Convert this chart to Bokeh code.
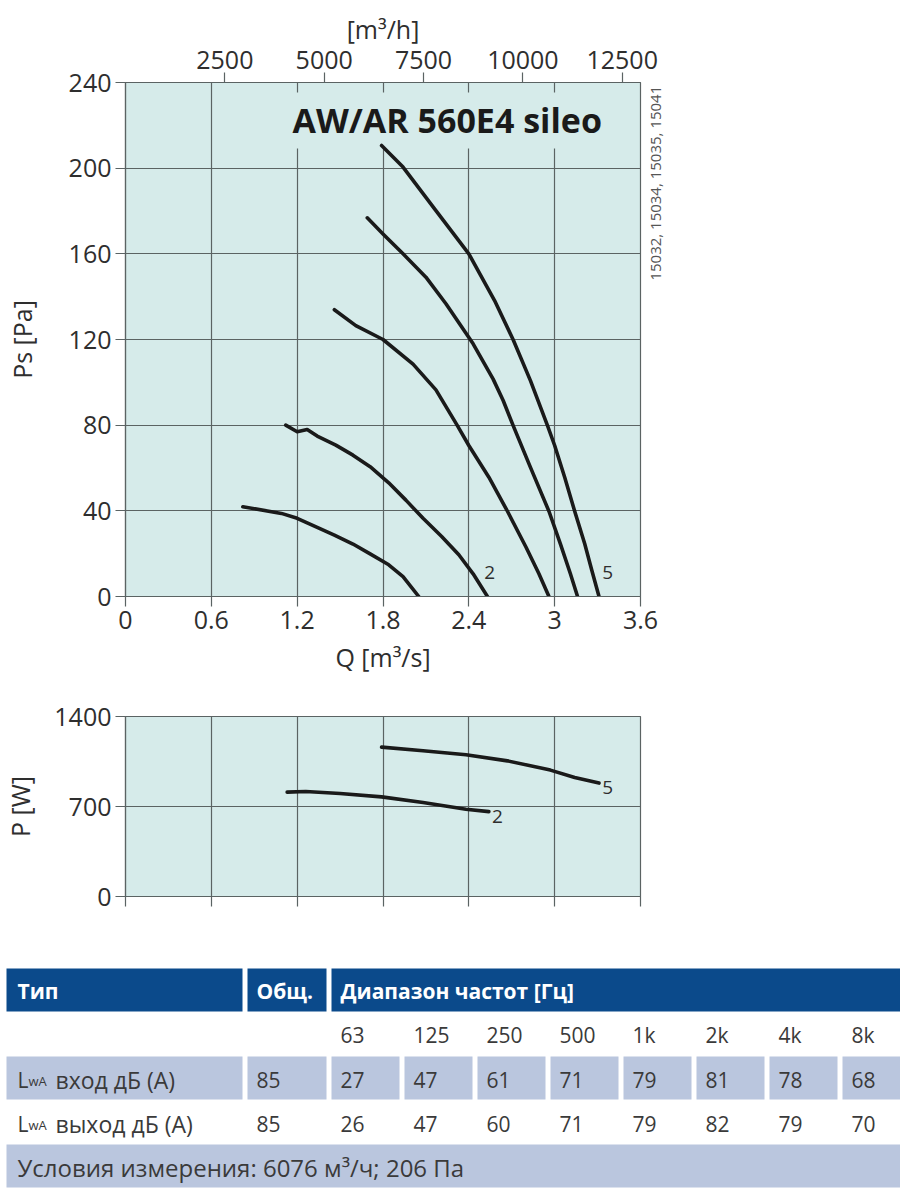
import math
import json
from bokeh.plotting import figure
from bokeh.models import Range1d, LinearAxis, FixedTicker, CustomJSTickFormatter, Label
from bokeh.layouts import column
from bokeh.core.properties import value
from bokeh.embed import file_html
from bokeh.resources import INLINE

FONT = "Open Sans"
BG = "#d6ebea"
AX = "#5b6363"
GRID = "#5b6363"
TXT = "#2e2e2e"
CURVE = "#1a1a1a"

# ---------------- data ----------------
q_ticks = [0, 0.6, 1.2, 1.8, 2.4, 3.0, 3.6]
ps_ticks = [0, 40, 80, 120, 160, 200, 240]
mh_ticks = [2500, 5000, 7500, 10000, 12500]
p_ticks = [0, 700, 1400]

# Ps curves (Q m3/s, Ps Pa)
q1 = [0.82, 1.09, 1.20, 1.34, 1.46, 1.59, 1.71, 1.84, 1.94, 2.05]
ps1 = [41.9, 38.8, 36.5, 32.3, 28.7, 24.5, 19.9, 14.8, 9.3, 0.0]

q2 = [1.12, 1.20, 1.27, 1.34, 1.47, 1.59, 1.71, 1.84, 1.96, 2.08, 2.21, 2.33, 2.43, 2.53]
ps2 = [80.0, 76.9, 78.0, 74.9, 70.7, 66.0, 60.6, 53.1, 45.0, 36.5, 28.0, 19.5, 10.6, 0.0]

q3 = [1.46, 1.61, 1.80, 2.01, 2.17, 2.32, 2.40, 2.54, 2.67, 2.80, 2.89, 2.96]
ps3 = [133.9, 126.5, 120.0, 108.5, 96.5, 79.8, 70.5, 55.7, 39.8, 23.0, 10.6, 0.0]

q4 = [1.69, 1.80, 1.94, 2.10, 2.24, 2.43, 2.57, 2.64, 2.71, 2.83, 2.96, 3.04, 3.11, 3.16]
ps4 = [176.8, 169.3, 160.0, 149.1, 136.7, 118.0, 101.5, 91.5, 79.8, 60.4, 39.8, 24.6, 10.6, 0.0]

q5 = [1.79, 1.94, 2.17, 2.40, 2.58, 2.71, 2.83, 2.95, 3.00, 3.07, 3.14, 3.21, 3.26, 3.31]
ps5 = [210.6, 200.5, 180.2, 160.0, 138.2, 119.9, 100.9, 79.8, 70.5, 55.7, 39.8, 24.6, 12.1, 0.0]

# Power curves (Q m3/s, P W)
pq2 = [1.13, 1.26, 1.50, 1.79, 2.08, 2.38, 2.54]
pw2 = [812, 817, 801, 775, 731, 679, 660]
pq5 = [1.79, 2.08, 2.38, 2.67, 2.97, 3.14, 3.31]
pw5 = [1162, 1133, 1102, 1055, 983, 926, 882]

# Table
head_labels = ["Тип", "Общ.", "Диапазон частот [Гц]"]
freq_labels = ["63", "125", "250", "500", "1k", "2k", "4k", "8k"]
inlet_db = [27, 47, 61, 71, 79, 81, 78, 68]
outlet_db = [26, 47, 60, 71, 79, 82, 79, 70]
inlet_total = 85
outlet_total = 85
row_in_label = "вход дБ (A)"
row_out_label = "выход дБ (A)"
cond_text = "Условия измерения: 6076 м³/ч; 206 Па"
model_name = "AW/AR 560E4 sileo"
codes_text = "15032, 15034, 15035, 15041"


def style_axis(ax, size="25px"):
    ax.axis_line_color = AX
    ax.axis_line_width = 1.2
    ax.major_tick_line_color = AX
    ax.major_tick_line_width = 1.2
    ax.major_tick_out = 10
    ax.major_tick_in = 0
    ax.minor_tick_out = 0
    ax.minor_tick_in = 0
    ax.major_label_text_font = FONT
    ax.major_label_text_font_size = size
    ax.major_label_text_color = TXT
    ax.major_label_standoff = 4
    ax.axis_label_text_font = FONT
    ax.axis_label_text_font_size = size
    ax.axis_label_text_font_style = "normal"
    ax.axis_label_text_color = TXT


def style_fig(p, yticks):
    p.background_fill_color = BG
    p.border_fill_color = "white"
    p.outline_line_color = AX
    p.outline_line_width = 1.2
    p.outline_line_alpha = 1.0
    p.xgrid.ticker = FixedTicker(ticks=q_ticks)
    p.ygrid.ticker = FixedTicker(ticks=yticks)
    p.grid.grid_line_color = GRID
    p.grid.grid_line_width = 1.2
    p.grid.grid_line_alpha = 1.0


# ---------------- main pressure chart ----------------
p1 = figure(frame_width=515, frame_height=514,
            x_range=Range1d(0, 3.6), y_range=Range1d(0, 240),
            output_backend="svg", toolbar_location=None,
            min_border_left=123, min_border_right=262,
            min_border_top=82, min_border_bottom=94)
style_fig(p1, ps_ticks)
p1.xaxis.ticker = FixedTicker(ticks=q_ticks)
p1.xaxis.formatter = CustomJSTickFormatter(code="return String(Math.round(tick*10)/10);")
p1.yaxis.ticker = FixedTicker(ticks=ps_ticks)
p1.xaxis.axis_label = "Q [m³/s]"
p1.yaxis.axis_label = "Ps [Pa]"
style_axis(p1.xaxis[0])
style_axis(p1.yaxis[0])
p1.xaxis.axis_label_standoff = 8
p1.yaxis.axis_label_standoff = 27

p1.extra_x_ranges = {"mh": Range1d(0, 3.6 * 3600)}
top = LinearAxis(x_range_name="mh", ticker=FixedTicker(ticks=mh_ticks), axis_label="[m³/h]")
style_axis(top)
top.axis_label_standoff = 2
p1.add_layout(top, "above")

# vertical code text on the right side, done as a one-tick axis label
side = LinearAxis(ticker=FixedTicker(ticks=[147.5]),
                  formatter=CustomJSTickFormatter(code="return " + json.dumps(codes_text) + ";"),
                  major_label_orientation=math.pi / 2)
side.axis_line_color = None
side.major_tick_line_color = None
side.minor_tick_line_color = None
side.major_label_text_font = FONT
side.major_label_text_font_size = "15px"
side.major_label_text_color = "#555555"
side.major_label_standoff = 9
p1.add_layout(side, "right")

title_kw = dict(x=1.132, y=222.3, text=model_name, text_font=FONT, text_font_size="34px",
                text_font_style="bold", text_color="#1a1a1a", text_align="left",
                text_baseline="alphabetic", background_fill_color=BG, level="underlay")
if "padding" in Label.properties():
    title_kw["padding"] = 5
p1.add_layout(Label(**title_kw))

for qx, py in [(q1, ps1), (q2, ps2), (q3, ps3), (q4, ps4), (q5, ps5)]:
    p1.line(qx, py, line_width=3.6, line_color=CURVE, line_join="round", line_cap="round")

p1.text(x=[2.546, 3.37], y=[11.2, 11.2], text=["2", "5"], text_font=value(FONT),
        text_font_size=value("19px"), text_color=TXT, text_align="center", text_baseline="middle")

# ---------------- power chart ----------------
p2 = figure(frame_width=515, frame_height=180,
            x_range=Range1d(0, 3.6), y_range=Range1d(0, 1400),
            output_backend="svg", toolbar_location=None,
            min_border_left=123, min_border_right=262,
            min_border_top=26, min_border_bottom=54)
style_fig(p2, p_ticks)
p2.xaxis.ticker = FixedTicker(ticks=q_ticks)
p2.xaxis.formatter = CustomJSTickFormatter(code="return '';")
p2.yaxis.ticker = FixedTicker(ticks=p_ticks)
p2.yaxis.axis_label = "P [W]"
style_axis(p2.xaxis[0])
style_axis(p2.yaxis[0])
p2.yaxis.axis_label_standoff = 14

p2.line(pq2, pw2, line_width=3.6, line_color=CURVE, line_join="round", line_cap="round")
p2.line(pq5, pw5, line_width=3.6, line_color=CURVE, line_join="round", line_cap="round")
p2.text(x=[2.60, 3.37], y=[625, 850], text=["2", "5"], text_font=value(FONT),
        text_font_size=value("19px"), text_color=TXT, text_align="center", text_baseline="middle")

# ---------------- table ----------------
TW, TH = 900, 238
p3 = figure(width=TW, height=TH, x_range=Range1d(0, TW), y_range=Range1d(TH, 0),
            output_backend="svg", toolbar_location=None,
            x_axis_location=None, y_axis_location=None, min_border=0)
if "frame_align" in p3.properties():
    p3.frame_align = False
p3.outline_line_color = None
p3.background_fill_color = "white"
p3.border_fill_color = "white"
p3.grid.visible = False

HEAD = "#0b4a8b"
LIGHT = "#bac6de"
ROWTXT = "#3a3a3a"
n = len(freq_labels)
fl = [331 + 73 * i for i in range(n)]
fr = [x + 68 for x in fl]

Y_HEAD, Y_FREQ, Y_IN, Y_OUT, Y_COND = 40, 84, 129, 173, 217

# header row
p3.quad(left=[6, 247, 331], right=[242, 326, TW + 10], top=[18, 18, 18], bottom=[61, 61, 61],
        fill_color=HEAD, line_color=None)
p3.text(x=[17, 256, 340], y=[Y_HEAD] * 3, text=head_labels, text_font=value(FONT),
        text_font_size=value("21px"), text_font_style="bold", text_color="white",
        text_baseline="alphabetic", text_align="left")

# frequency labels row
p3.text(x=[x + 9 for x in fl], y=[Y_FREQ] * n, text=freq_labels, text_font=value(FONT),
        text_font_size=value("21px"), text_color=ROWTXT, text_baseline="alphabetic", text_align="left")

# inlet row (shaded cells)
p3.quad(left=[6, 247] + fl, right=[242, 326] + fr, top=[106] * (n + 2), bottom=[149] * (n + 2),
        fill_color=LIGHT, line_color=None)
p3.text(x=[256] + [x + 9 for x in fl], y=[Y_IN] * (n + 1),
        text=[str(inlet_total)] + [str(v) for v in inlet_db], text_font=value(FONT),
        text_font_size=value("21px"), text_color=ROWTXT, text_baseline="alphabetic", text_align="left")

# outlet row
p3.text(x=[256] + [x + 9 for x in fl], y=[Y_OUT] * (n + 1),
        text=[str(outlet_total)] + [str(v) for v in outlet_db], text_font=value(FONT),
        text_font_size=value("21px"), text_color=ROWTXT, text_baseline="alphabetic", text_align="left")

# row labels L_wA ...
p3.text(x=[17, 17], y=[Y_IN, Y_OUT], text=["L", "L"], text_font=value(FONT),
        text_font_size=value("21px"), text_color=ROWTXT, text_baseline="alphabetic", text_align="left")
p3.text(x=[28, 28], y=[Y_IN + 1, Y_OUT + 1], text=["wA", "wA"], text_font=value(FONT),
        text_font_size=value("13px"), text_color=ROWTXT, text_baseline="alphabetic", text_align="left")
p3.text(x=[55, 55], y=[Y_IN, Y_OUT], text=[row_in_label, row_out_label], text_font=value(FONT),
        text_font_size=value("23px"), text_color=ROWTXT, text_baseline="alphabetic", text_align="left")

# conditions row
p3.quad(left=[6], right=[TW + 10], top=[194], bottom=[237], fill_color=LIGHT, line_color=None)
p3.text(x=[17], y=[Y_COND], text=[cond_text], text_font=value(FONT),
        text_font_size=value("24px"), text_color=ROWTXT, text_baseline="alphabetic", text_align="left")

layout = column(column(p1, p2), column(p3))
open("out.html", "w").write(file_html(layout, INLINE))
